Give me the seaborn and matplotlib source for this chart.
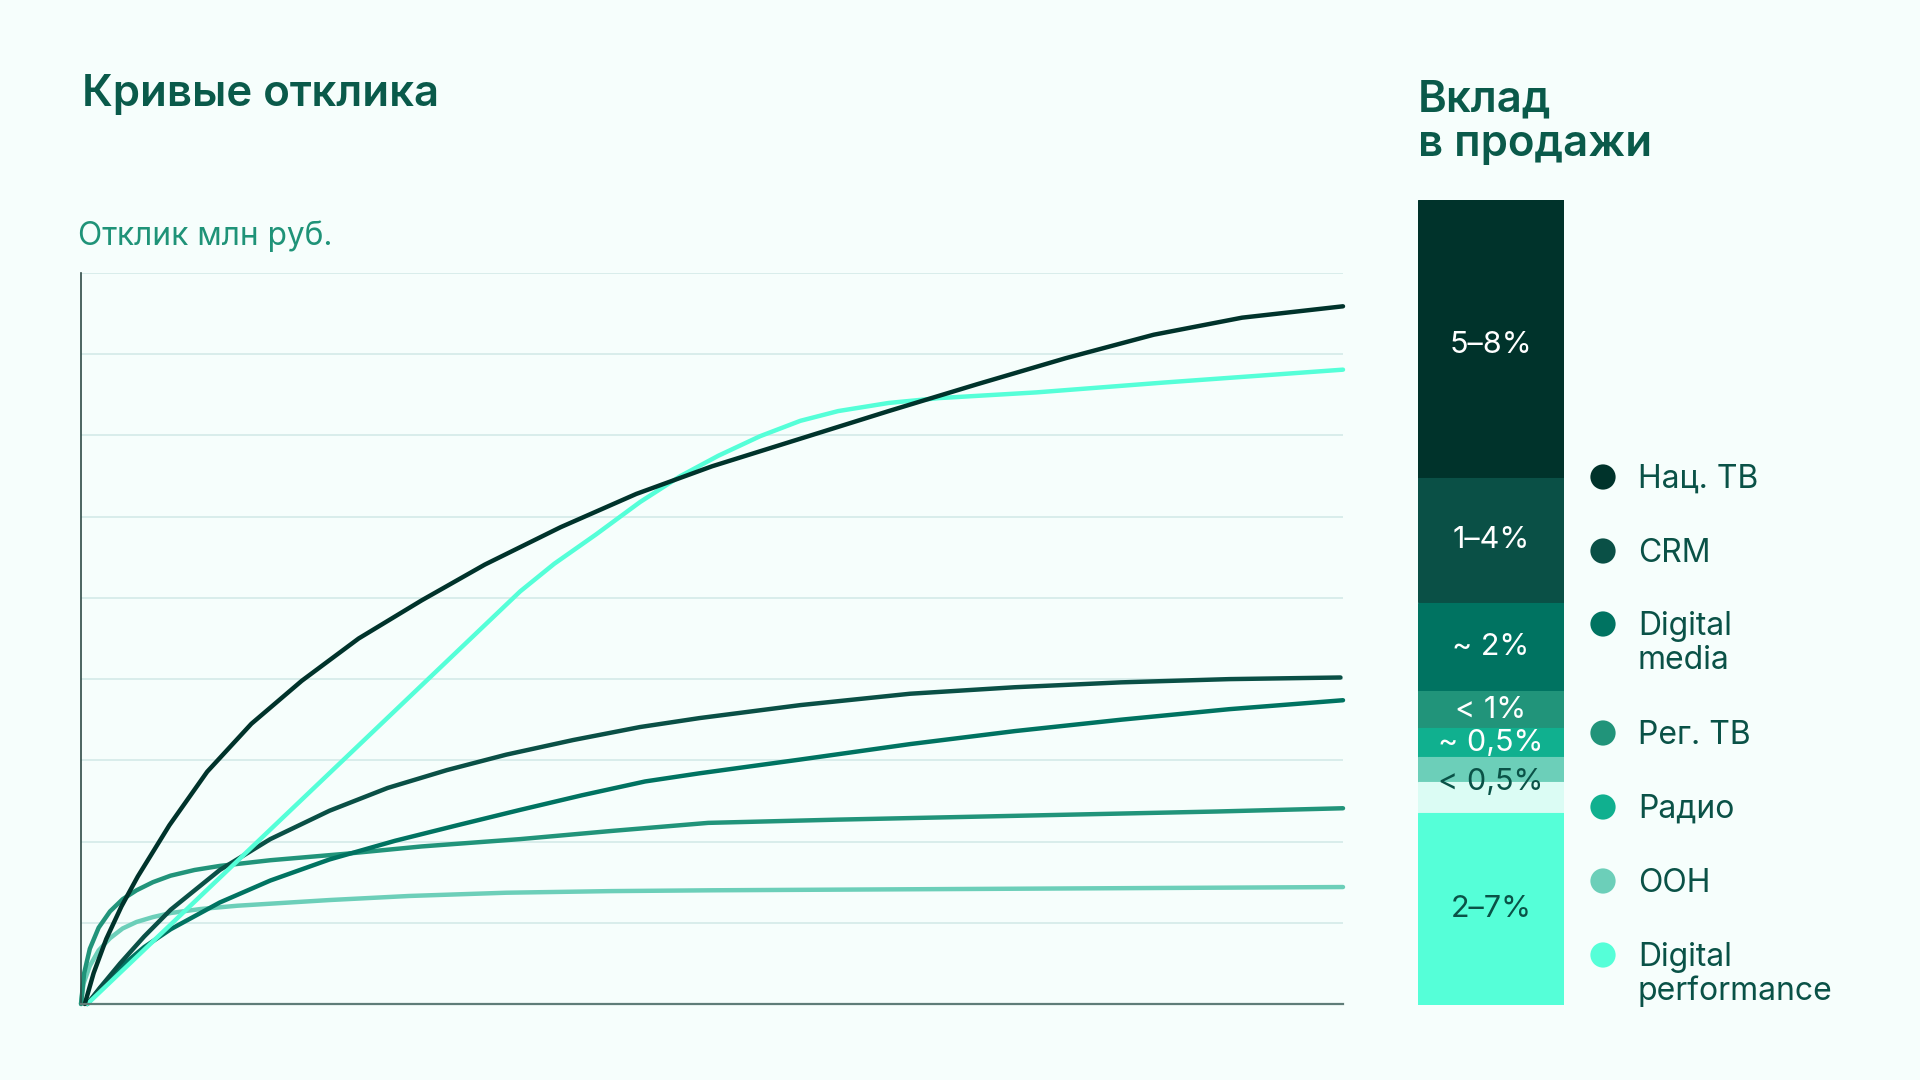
import numpy as np
import pandas as pd
import matplotlib
matplotlib.use("Agg")
import matplotlib.pyplot as plt
import seaborn as sns

# ---------------- data ----------------
channels = ["Нац. ТВ", "CRM", "Digital media", "Рег. ТВ", "Радио", "OOH", "Digital performance"]
legend_labels = ["Нац. ТВ", "CRM", "Digital\nmedia", "Рег. ТВ", "Радио", "OOH", "Digital\nperformance"]

nat_tv_x = [0.3, 1.0, 2.0, 3.2, 4.5, 7.0, 10.0, 13.5, 17.5, 22.0, 27.0, 32.0, 38.0, 44.0, 50.0, 57.0,
            64.0, 71.0, 78.0, 85.0, 92.0, 100]
nat_tv_y = [0, 0.38, 0.80, 1.20, 1.57, 2.20, 2.86, 3.45, 3.98, 4.50, 4.97, 5.41, 5.87, 6.28, 6.62, 6.96,
            7.30, 7.63, 7.95, 8.24, 8.45, 8.59]

crm_x = [0.5, 1.5, 3.1, 5.0, 7.1, 11.0, 15.0, 19.7, 24.3, 29.0, 33.7, 39.0, 44.3, 49.0, 57.0, 65.7,
         74.0, 82.4, 91.0, 99.8]
crm_y = [0, 0.20, 0.50, 0.83, 1.16, 1.65, 2.03, 2.38, 2.66, 2.88, 3.07, 3.25, 3.41, 3.52, 3.68, 3.82,
         3.90, 3.96, 4.00, 4.02]

dmedia_x = [0.5, 1.5, 3.1, 5.0, 7.1, 11.0, 15.0, 19.7, 24.9, 29.8, 34.8, 39.7, 44.7, 49.0, 57.0, 65.7,
            74.0, 82.4, 91.0, 100]
dmedia_y = [0, 0.19, 0.45, 0.70, 0.92, 1.25, 1.52, 1.78, 2.01, 2.20, 2.39, 2.57, 2.74, 2.84, 3.01,
            3.20, 3.36, 3.50, 3.63, 3.74]

regtv_x = [0, 0.25, 0.7, 1.4, 2.3, 3.3, 4.4, 5.7, 7.1, 9.0, 11.0, 15.0, 21.0, 27.0, 34.8, 42.0, 49.7,
           60.0, 75.0, 90.0, 100]
regtv_y = [0, 0.38, 0.68, 0.94, 1.14, 1.29, 1.40, 1.50, 1.58, 1.65, 1.70, 1.77, 1.85, 1.94, 2.03, 2.13,
           2.23, 2.27, 2.32, 2.37, 2.41]

ooh_x = [0, 0.2, 0.7, 1.4, 2.3, 3.3, 4.4, 5.7, 7.1, 9.5, 12.4, 19.7, 26.0, 33.7, 42.0, 50.0, 75.0, 100]
ooh_y = [0, 0.25, 0.47, 0.66, 0.81, 0.93, 1.01, 1.07, 1.12, 1.17, 1.21, 1.28, 1.33, 1.37, 1.39, 1.40,
         1.42, 1.44]

dperf_x = [0.5, 34.8, 37.5, 40.8, 44.3, 47.5, 50.5, 53.8, 57.0, 60.0, 64.0, 68.0, 75.7, 85.7, 100]
dperf_y = [0, 5.08, 5.42, 5.78, 6.18, 6.50, 6.75, 6.99, 7.18, 7.30, 7.40, 7.46, 7.53, 7.65, 7.81]

# stacked contribution bar (top -> bottom)
bar_segments = ["Нац. ТВ", "CRM", "Digital media", "Рег. ТВ", "Радио", "OOH", "прочее", "Digital performance"]
bar_heights = [278, 125, 89, 37, 29, 25, 31, 192]
bar_labels = ["5–8%", "1–4%", "~ 2%", "< 1%", "~ 0,5%", "< 0,5%", "", "2–7%"]

# ---------------- style ----------------
BG = "#f6fefc"
colors = {
    "Нац. ТВ": "#00332b",
    "CRM": "#0a5046",
    "Digital media": "#007361",
    "Рег. ТВ": "#21947a",
    "Радио": "#10b08f",
    "OOH": "#6ccfb9",
    "прочее": "#dbfcf4",
    "Digital performance": "#55ffd8",
}
TITLE_C = "#0a5a4a"
TEXT_C = "#0a5247"

sns.set_theme(style="white")
plt.rcParams["font.family"] = ["Inter", "DejaVu Sans"]

W, H = 1920, 1080
fig = plt.figure(figsize=(W / 100, H / 100), dpi=100, facecolor=BG)


def fx(x):
    return x / W


def fy(y):
    return 1 - y / H


# ---------------- response curves ----------------
ax = fig.add_axes([fx(81), fy(1004), (1343 - 81) / W, (1004 - 273) / H])
ax.set_facecolor(BG)

series = {
    "OOH": (ooh_x, ooh_y),
    "Рег. ТВ": (regtv_x, regtv_y),
    "Digital media": (dmedia_x, dmedia_y),
    "CRM": (crm_x, crm_y),
    "Digital performance": (dperf_x, dperf_y),
    "Нац. ТВ": (nat_tv_x, nat_tv_y),
}
rows = []
for name, (xs, ys) in series.items():
    for xv, yv in zip(xs, ys):
        rows.append({"channel": name, "x": xv, "y": yv})
df = pd.DataFrame(rows)

sns.lineplot(data=df, x="x", y="y", hue="channel", hue_order=list(series.keys()),
             palette=colors, linewidth=3.2, estimator=None, sort=False, units="channel",
             legend=False, ax=ax)
for ln in ax.get_lines():
    ln.set_solid_capstyle("round")
    ln.set_solid_joinstyle("round")
    ln.set_clip_on(False)

ax.set_xlim(0, 100)
ax.set_ylim(0, 9)
ax.set_yticks(np.arange(1, 10))
ax.set_xticks([])
ax.set_yticklabels([])
ax.tick_params(length=0)
ax.grid(axis="y", color="#d6ecea", linewidth=1.3)
ax.grid(axis="x", visible=False)
ax.set_xlabel("")
ax.set_ylabel("")
for s in ["top", "right"]:
    ax.spines[s].set_visible(False)
ax.spines["left"].set_color("#2f4a46")
ax.spines["left"].set_linewidth(1.2)
ax.spines["bottom"].set_color("#5f7d78")
ax.spines["bottom"].set_linewidth(1.6)

# ---------------- contribution bar ----------------
bx0, bx1, by0, by1 = 1418, 1564, 200, 1005
axb = fig.add_axes([fx(bx0), fy(by1), (bx1 - bx0) / W, (by1 - by0) / H])
axb.set_facecolor("none")
total = sum(bar_heights)
bottom = 0
for seg, h in zip(bar_segments, bar_heights):
    sns.barplot(x=[0], y=[h], bottom=bottom, color=colors[seg], width=1.0,
                linewidth=0.8, edgecolor=colors[seg], saturation=1, ax=axb)
    bottom += h
axb.set_xlim(-0.5, 0.5)
axb.set_ylim(total, 0)
axb.axis("off")

bottom = 0
for k, (seg, h, lab) in enumerate(zip(bar_segments, bar_heights, bar_labels)):
    if lab:
        yc = bottom + h / 2
        if seg == "OOH":
            yc = bottom + h
        if k == 0:
            yc += 6
        col = "white" if k < 5 else TEXT_C
        axb.text(0, yc, lab, ha="center", va="center", color=col, fontsize=22)
    bottom += h

# ---------------- titles ----------------
fig.text(fx(82), fy(106), "Кривые отклика", ha="left", va="baseline",
         fontsize=31.5, fontweight="semibold", color=TITLE_C)
fig.text(fx(78), fy(245), "Отклик млн руб.", ha="left", va="baseline",
         fontsize=22.8, color="#1f9378")
fig.text(fx(1418), fy(111), "Вклад", ha="left", va="baseline",
         fontsize=31.5, fontweight="semibold", color=TITLE_C)
fig.text(fx(1418), fy(156), "в продажи", ha="left", va="baseline",
         fontsize=31.5, fontweight="semibold", color=TITLE_C)

# ---------------- legend ----------------
axo = fig.add_axes([0, 0, 1, 1])
axo.set_facecolor("none")
axo.set_xlim(0, W)
axo.set_ylim(H, 0)
axo.axis("off")
dot_y = [477, 551, 624, 733, 807, 881, 955]
dot_x = [1603] * len(channels)
sns.scatterplot(x=dot_x, y=dot_y, hue=channels, palette=colors, s=330, linewidth=0,
                legend=False, ax=axo)
for lab, yv in zip(legend_labels, dot_y):
    for j, line in enumerate(lab.split("\n")):
        axo.text(1638, yv + 11 + j * 34, line, ha="left", va="baseline",
                 fontsize=23, color=TEXT_C)

fig.savefig("out.png", dpi=100, facecolor=BG)
